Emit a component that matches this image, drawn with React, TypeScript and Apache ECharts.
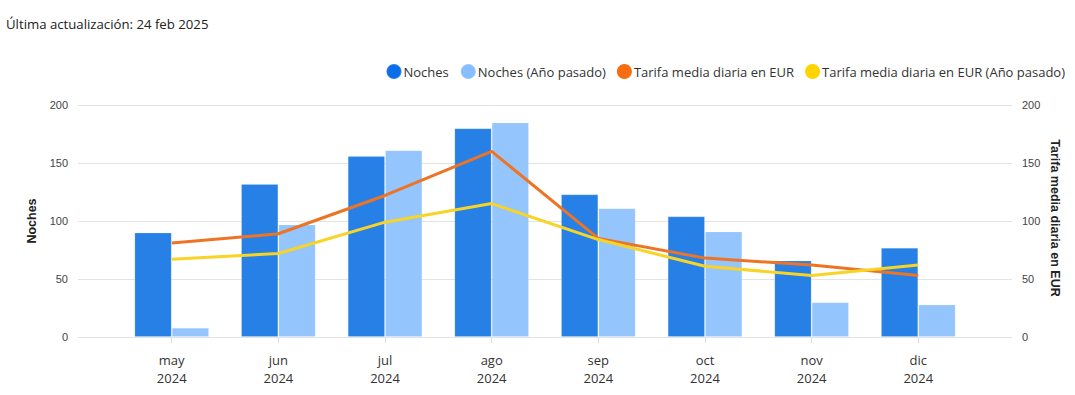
import React, { useEffect, useRef } from "react";
import * as echarts from "echarts";

const months = ["may\n2024", "jun\n2024", "jul\n2024", "ago\n2024", "sep\n2024", "oct\n2024", "nov\n2024", "dic\n2024"];
const noches = [90, 132, 156, 180, 123, 104, 66, 77];
const nochesPrev = [8, 97, 161, 185, 111, 91, 30, 28];
const tarifa = [81, 89, 122, 160, 85, 68, 62, 53];
const tarifaPrev = [67, 72, 99, 115, 84, 61, 53, 62];
const yTicks = [0, 50, 100, 150, 200];

const FONT = "'Open Sans', 'Noto Sans', sans-serif";
const AXFONT = "'Liberation Sans', Arial, sans-serif";

export default function App() {
  const ref = useRef<HTMLDivElement>(null);
  useEffect(() => {
    document.body.style.margin = "0";
    const chart = echarts.init(ref.current!, undefined, { renderer: "svg" });
    const yMax = yTicks[yTicks.length - 1];
    const interval = yTicks[1] - yTicks[0];
    chart.setOption({
      animation: false,
      title: {
        text: "Última actualización: 24 feb 2025",
        left: 1,
        top: 12,
        textStyle: { fontSize: 13.2, fontWeight: "normal", color: "#222", fontFamily: FONT },
      },
      legend: {
        right: 5,
        top: 58,
        icon: "circle",
        itemWidth: 15,
        itemHeight: 15,
        itemGap: 11,
        textStyle: { fontSize: 13, color: "#333", fontFamily: FONT, padding: [0, 0, 0, -3] },
        data: [
          { name: "Noches", itemStyle: { color: "#0A6EE6", opacity: 1 } },
          { name: "Noches (Año pasado)", itemStyle: { color: "#86BEFF", opacity: 1 } },
          { name: "Tarifa media diaria en EUR", itemStyle: { color: "#F86D10", opacity: 1 } },
          { name: "Tarifa media diaria en EUR (Año pasado)", itemStyle: { color: "#FFD400", opacity: 1 } },
        ],
      },
      graphic: [
        {
          type: "text",
          x: 1055,
          y: 218,
          rotation: -Math.PI / 2,
          style: {
            text: "Tarifa media diaria en EUR",
            fontSize: 12.5,
            fontWeight: "bold",
            fill: "#222",
            fontFamily: AXFONT,
            align: "center",
            verticalAlign: "middle",
          },
        },
      ],
      grid: [
        { left: 78, right: 63, top: 105, bottom: 58 },
        { left: 118.4, right: 103.4, top: 105, bottom: 58 },
      ],
      xAxis: [
        { type: "category", gridIndex: 0, data: months, show: false },
        {
          type: "category",
          gridIndex: 1,
          data: months,
          axisLine: { show: false },
          axisTick: { show: true, alignWithLabel: true, length: 6, lineStyle: { color: "#ddd" } },
          axisLabel: { fontSize: 13, color: "#333", fontFamily: FONT, margin: 14, lineHeight: 18 },
        },
      ],
      yAxis: [
        {
          type: "value",
          gridIndex: 0,
          min: 0,
          max: yMax,
          interval,
          position: "left",
          name: "Noches",
          nameLocation: "middle",
          nameGap: 31,
          nameTextStyle: { fontSize: 12.5, fontWeight: "bold", color: "#222", fontFamily: AXFONT },
          axisLine: { show: false },
          axisTick: { show: false },
          axisLabel: { fontSize: 11, color: "#444", fontFamily: AXFONT, margin: 10 },
          splitLine: { lineStyle: { color: "#e3e3e3", width: 1 } },
        },
        {
          type: "value",
          gridIndex: 0,
          min: 0,
          max: yMax,
          interval,
          position: "right",
          axisLine: { show: false },
          axisTick: { show: false },
          axisLabel: { fontSize: 11, color: "#444", fontFamily: AXFONT, margin: 10 },
          splitLine: { show: false },
        },
        { type: "value", gridIndex: 1, min: 0, max: yMax, show: false },
        { type: "value", gridIndex: 1, min: 0, max: yMax, show: false },
      ],
      series: [
        {
          name: "Noches",
          type: "bar",
          xAxisIndex: 1,
          yAxisIndex: 2,
          data: noches,
          barGap: "0%",
          barCategoryGap: "30%",
          itemStyle: { color: "#2680E6", borderColor: "rgba(255,255,255,0.15)", borderWidth: 1 },
        },
        {
          name: "Noches (Año pasado)",
          type: "bar",
          xAxisIndex: 1,
          yAxisIndex: 2,
          data: nochesPrev,
          barGap: "0%",
          barCategoryGap: "30%",
          itemStyle: { color: "#94C5FC", borderColor: "rgba(255,255,255,0.15)", borderWidth: 1 },
        },
        {
          name: "Tarifa media diaria en EUR",
          type: "line",
          xAxisIndex: 1,
          yAxisIndex: 3,
          data: tarifa,
          showSymbol: false,
          symbol: "none",
          lineStyle: { color: "#EE7425", width: 3 },
          itemStyle: { color: "#EE7425" },
        },
        {
          name: "Tarifa media diaria en EUR (Año pasado)",
          type: "line",
          xAxisIndex: 1,
          yAxisIndex: 3,
          data: tarifaPrev,
          showSymbol: false,
          symbol: "none",
          lineStyle: { color: "#F7D425", width: 3 },
          itemStyle: { color: "#F7D425" },
        },
      ],
    });
    return () => chart.dispose();
  }, []);
  return <div ref={ref} style={{ width: 1075, height: 395, position: "absolute", left: 0, top: 0 }} />;
}
